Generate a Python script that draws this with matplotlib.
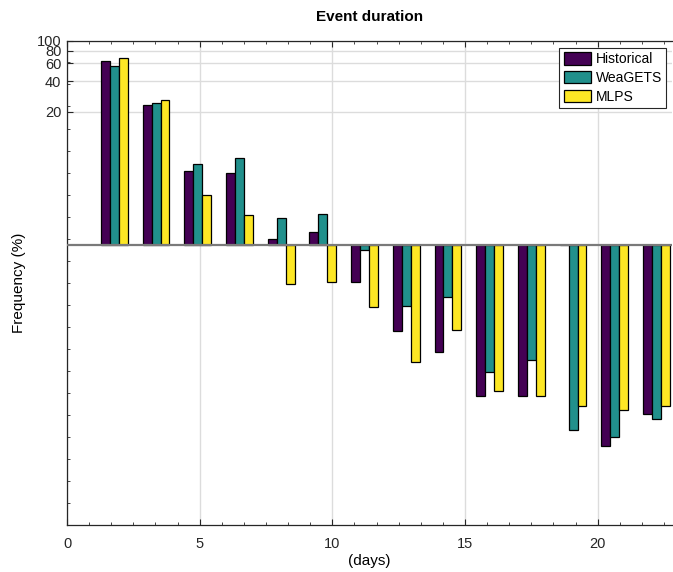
import numpy as np
import matplotlib
matplotlib.use("Agg")
import matplotlib.pyplot as plt
from matplotlib.ticker import FixedLocator, MultipleLocator, NullFormatter

plt.rcParams['font.family'] = ['Liberation Sans', 'DejaVu Sans']

# bin centres (days): 14 bins between 1 and 23
bin_edges_lo = 1.0
bin_edges_hi = 23.0
n_bins = 14
centers = bin_edges_lo + (np.arange(n_bins) + 0.5) * (bin_edges_hi - bin_edges_lo) / n_bins

series_names = ["Historical", "WeaGETS", "MLPS"]
historical = [63.2, 23.3, 5.28, 5.05, 1.14, 1.33, 0.43, 0.142, 0.088, 0.0327, 0.0327, 1.0, 0.0107, 0.0217]
weagets    = [56.5, 24.5, 6.14, 7.03, 1.81, 2.00, 0.89, 0.252, 0.309, 0.0569, 0.0746, 0.0151, 0.0129, 0.0195]
mlps       = [67.2, 26.2, 3.09, 1.95, 0.41, 0.43, 0.243, 0.0703, 0.145, 0.0371, 0.0327, 0.0262, 0.0238, 0.0262]
colors = ["#440154", "#21908C", "#FDE725"]

yticks = [20, 40, 60, 80, 100]
xticks = [0, 5, 10, 15, 20]

fig = plt.figure(figsize=(6.73, 5.72), dpi=100)
ax = fig.add_axes([67/673, (572-525)/572, 605/673, 484.3/572])
ax.set_yscale('log')

baseline = 1.0
bw = 0.337
for i, (vals, c, name) in enumerate(zip([historical, weagets, mlps], colors, series_names)):
    v = np.array(vals, dtype=float)
    ax.bar(centers + (i - 1) * bw, v - baseline, bottom=baseline, width=bw,
           color=c, edgecolor='black', linewidth=0.9, label=name, zorder=3)

ax.axhline(baseline, color='#7a7a7a', linewidth=1.6, zorder=4)

ax.set_xlim(0, 22.8)
ax.set_ylim(10**-2.748, 100)

ax.yaxis.set_major_locator(FixedLocator(yticks))
ax.set_yticklabels([str(t) for t in yticks])
minor_y = [10**(-0.157 + 0.216*k) for k in range(-12, 10)]
minor_y = [m for m in minor_y if m < 100]
ax.yaxis.set_minor_locator(FixedLocator(minor_y))
ax.yaxis.set_minor_formatter(NullFormatter())

ax.xaxis.set_major_locator(FixedLocator(xticks))
ax.xaxis.set_minor_locator(MultipleLocator(5/6))

ax.grid(True, which='major', color='#dcdcdc', linewidth=1.0, zorder=0)
ax.set_axisbelow(True)

ax.tick_params(axis='both', which='both', direction='in', top=True, right=False,
               labelsize=10.5, colors='#262626')
ax.tick_params(axis='both', which='major', length=4, width=0.8)
ax.tick_params(axis='both', which='minor', length=2.5, width=0.6)
ax.tick_params(axis='x', pad=9)
ax.tick_params(axis='y', pad=4)

for s in ['left', 'bottom', 'top']:
    ax.spines[s].set_color('#262626')
    ax.spines[s].set_linewidth(0.9)
ax.spines['right'].set_visible(False)

ax.set_title("Event duration", fontsize=11, fontweight='bold', pad=14)
ax.set_xlabel("(days)", fontsize=11, labelpad=2)
ax.set_ylabel("Frequency (%)", fontsize=11, labelpad=8)

leg = ax.legend(loc='upper right', bbox_to_anchor=(0.99, 0.985), fontsize=10,
                fancybox=False, framealpha=1, edgecolor='#262626',
                handlelength=2.0, handleheight=1.0, borderpad=0.3,
                labelspacing=0.35, handletextpad=0.3, borderaxespad=0)
leg.get_frame().set_linewidth(0.8)

fig.savefig("out.png", dpi=100)
